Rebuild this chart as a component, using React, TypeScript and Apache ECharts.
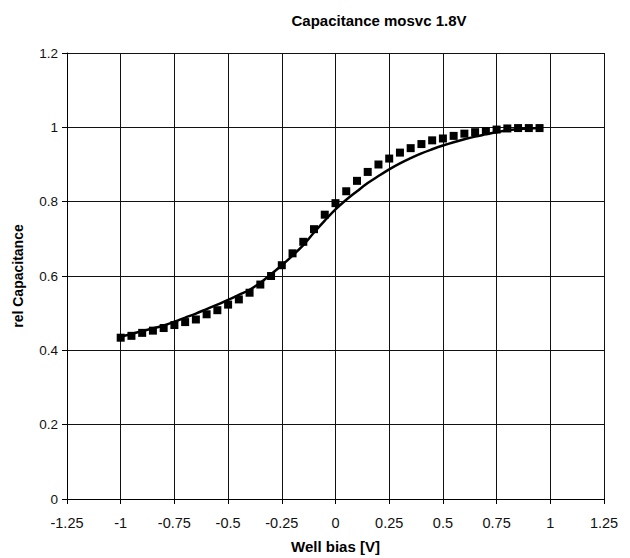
import React, { useEffect, useRef } from "react";
import * as echarts from "echarts";

const biasV = [
  -1, -0.95, -0.9, -0.85, -0.8, -0.75, -0.7, -0.65, -0.6, -0.55, -0.5, -0.45, -0.4, -0.35, -0.3, -0.25,
  -0.2, -0.15, -0.1, -0.05, 0, 0.05, 0.1, 0.15, 0.2, 0.25, 0.3, 0.35, 0.4, 0.45, 0.5, 0.55, 0.6, 0.65,
  0.7, 0.75, 0.8, 0.85, 0.9, 0.95,
];
const measured = [
  0.434, 0.439, 0.447, 0.453, 0.46, 0.468, 0.476, 0.483, 0.497, 0.508, 0.523, 0.537, 0.555, 0.577, 0.6, 0.629,
  0.661, 0.692, 0.726, 0.765, 0.796, 0.828, 0.856, 0.88, 0.9, 0.916, 0.932, 0.944, 0.955, 0.965, 0.97, 0.977,
  0.983, 0.987, 0.99, 0.994, 0.997, 0.998, 0.998, 0.998,
];
const simulated = [
  0.437, 0.444, 0.452, 0.459, 0.467, 0.477, 0.488, 0.499, 0.511, 0.523, 0.536, 0.549, 0.563, 0.582, 0.605, 0.629,
  0.655, 0.683, 0.717, 0.749, 0.779, 0.805, 0.828, 0.85, 0.869, 0.887, 0.903, 0.917, 0.93, 0.941, 0.951, 0.96,
  0.968, 0.975, 0.981, 0.987, 0.992, 0.995, 0.997, 0.998,
];

const titleText = "Capacitance mosvc 1.8V";
const xName = "Well bias [V]";
const yName = "rel Capacitance";

const FONT = "'Liberation Sans', Arial, sans-serif";

export default function App() {
  const ref = useRef<HTMLDivElement>(null);
  useEffect(() => {
    if (!ref.current) return;
    const chart = echarts.init(ref.current, undefined, { renderer: "svg" });
    const fmt = (v: number) => String(+v.toFixed(2));
    chart.setOption({
      animation: false,
      backgroundColor: "#fff",
      textStyle: { fontFamily: FONT },
      title: {
        text: titleText,
        left: 374,
        top: 8,
        textAlign: "center",
        textStyle: { fontFamily: FONT, fontSize: 15, fontWeight: "bold", color: "#000" },
      },
      grid: {
        left: 67,
        right: 26,
        top: 53,
        bottom: 59,
        containLabel: false,
        outerBoundsMode: "none",
        show: false,
      },
      xAxis: {
        type: "value",
        min: -1.25,
        max: 1.25,
        interval: 0.25,
        name: xName,
        nameLocation: "middle",
        nameGap: 40,
        nameTextStyle: { fontFamily: FONT, fontSize: 15, fontWeight: "bold", color: "#000" },
        axisLine: { onZero: false, lineStyle: { color: "#000", width: 1 } },
        axisTick: { show: true, length: 5, lineStyle: { color: "#000" } },
        axisLabel: { formatter: fmt, margin: 16, fontSize: 14.5, color: "#111", fontFamily: FONT },
        splitLine: { show: true, lineStyle: { color: "#111", width: 1 } },
      },
      yAxis: {
        type: "value",
        min: 0,
        max: 1.2,
        interval: 0.2,
        name: yName,
        nameLocation: "middle",
        nameGap: 42,
        nameTextStyle: { fontFamily: FONT, fontSize: 14, fontWeight: "bold", color: "#000" },
        axisLine: { show: true, onZero: false, lineStyle: { color: "#000", width: 1 } },
        axisTick: { show: true, length: 5, lineStyle: { color: "#000" } },
        axisLabel: { formatter: fmt, margin: 9, fontSize: 13.5, color: "#111", fontFamily: FONT },
        splitLine: { show: true, lineStyle: { color: "#111", width: 1 } },
      },
      series: [
        {
          type: "line",
          name: "simulated",
          data: biasV.map((x, i) => [x, simulated[i]]),
          smooth: 0.4,
          showSymbol: false,
          symbol: "none",
          lineStyle: { color: "#000", width: 2.5 },
          z: 3,
        },
        {
          type: "scatter",
          name: "measured",
          data: biasV.map((x, i) => [x, measured[i]]),
          symbol: "rect",
          symbolSize: 8,
          itemStyle: { color: "#000", opacity: 1 },
          z: 4,
        },
      ],
    });
    return () => chart.dispose();
  }, []);
  return <div ref={ref} style={{ width: 630, height: 558, position: "absolute", left: 0, top: 0 }} />;
}
